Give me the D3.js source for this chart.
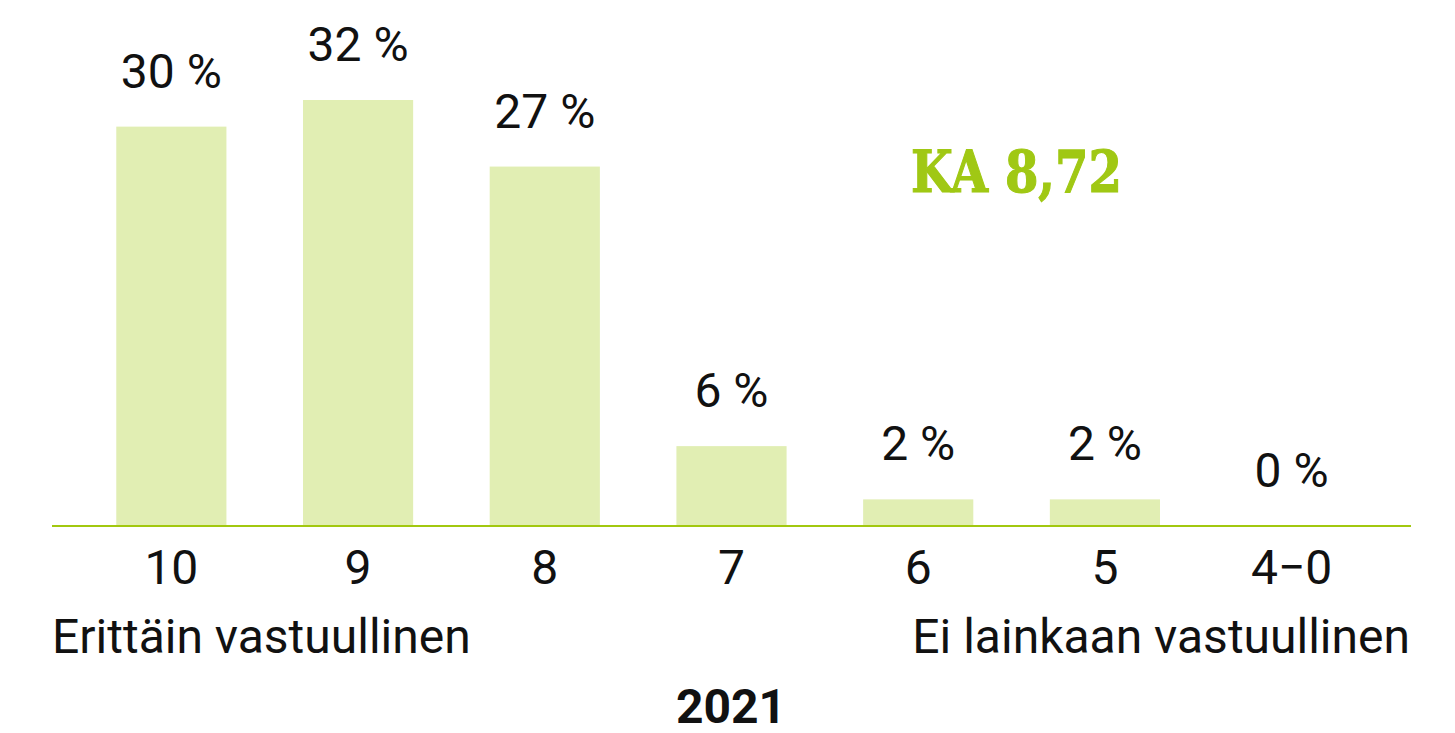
<!DOCTYPE html>
<html>
<head>
<meta charset="utf-8">
<script src="https://cdn.jsdelivr.net/npm/d3@7"></script>
<style>
  body { margin: 0; background: #fff; }
  text { font-family: Roboto, sans-serif; fill: #111; }
</style>
</head>
<body>
<div id="chart"></div>
<script>
// data
var categories = ["10", "9", "8", "7", "6", "5", "4\u22120"];
var shares = [30, 32, 27, 6, 2, 2, 0];
var leftLabel = "Erittäin vastuullinen";
var rightLabel = "Ei lainkaan vastuullinen";
var yearLabel = "2021";
var meanLabel = "KA 8,72";

var width = 1455, height = 733;
var baseY = 526;
var fs = "48px";

var svg = d3.select("#chart")
  .append("svg")
    .attr("width", width)
    .attr("height", height);

// scales
var x = d3.scaleBand()
    .domain(categories)
    .range([78, 1385])
    .paddingInner(0.41)
    .paddingOuter(0.205);

var y = d3.scaleLinear()
    .domain([0, 32])
    .range([baseY, 100]);

// bars
svg.selectAll("rect.bar")
  .data(shares)
  .enter()
  .append("rect")
    .attr("class", "bar")
    .attr("x", function(d, i) { return x(categories[i]); })
    .attr("y", function(d) { return y(d); })
    .attr("width", x.bandwidth())
    .attr("height", function(d) { return baseY - y(d); })
    .style("fill", "#e1eeb3");

// value labels
svg.selectAll("text.val")
  .data(shares)
  .enter()
  .append("text")
    .attr("class", "val")
    .attr("x", function(d, i) { return x(categories[i]) + x.bandwidth() / 2; })
    .attr("y", function(d) { return y(d) - 39; })
    .attr("text-anchor", "middle")
    .style("font-size", fs)
    .text(function(d) { return d + " %"; });

// x axis
var xAxis = svg.append("g")
    .attr("transform", "translate(0," + baseY + ")")
    .call(d3.axisBottom(x).tickSize(0).tickPadding(24));
xAxis.select(".domain").remove();
xAxis.selectAll("text")
    .style("font-size", fs)
    .style("font-family", "Roboto, sans-serif")
    .attr("fill", "#111");

// baseline
svg.append("line")
    .attr("x1", 52).attr("x2", 1411)
    .attr("y1", baseY).attr("y2", baseY)
    .style("stroke", "#a2c80f")
    .style("stroke-width", 2);

svg.append("text")
    .attr("x", 52).attr("y", 653)
    .style("font-size", fs)
    .text(leftLabel);

svg.append("text")
    .attr("x", 1410).attr("y", 653)
    .attr("text-anchor", "end")
    .style("font-size", fs)
    .text(rightLabel);

svg.append("text")
    .attr("x", 731).attr("y", 723)
    .attr("text-anchor", "middle")
    .style("font-size", fs)
    .style("font-weight", "bold")
    .text(yearLabel);

// mean
svg.append("text")
    .attr("x", 911).attr("y", 192)
    .attr("textLength", 211)
    .attr("lengthAdjust", "spacingAndGlyphs")
    .style("font-family", "'DejaVu Serif', serif")
    .style("font-weight", "bold")
    .style("font-size", "58px")
    .style("fill", "#a0c814")
    .style("stroke", "#a0c814")
    .style("stroke-width", 1.2)
    .text(meanLabel);
</script>
</body>
</html>
